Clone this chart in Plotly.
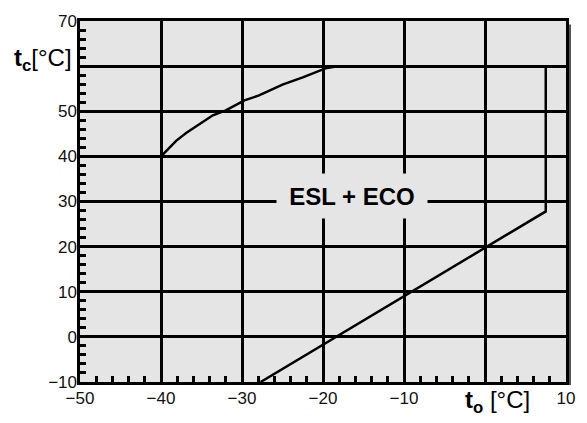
import plotly.graph_objects as go

# Boundary curve of the ESL + ECO envelope (t_o, t_c in °C)
env_to = [-40, -38.1, -36.9, -33.6, -32.0, -29.7, -27.9, -25.0, -22.5, -19.7, -18.0, 7.5, 7.5, -27.7]
env_tc = [40, 43.5, 45.2, 49.1, 50.2, 52.4, 53.5, 55.9, 57.5, 59.5, 60.0, 60.0, 27.8, -10.0]

x_range = [-50, 10]
y_range = [-10, 70]
x_labelled_ticks = [-50, -40, -30, -20, -10, 10]
y_labelled_ticks = [-10, 0, 10, 20, 30, 40, 50, 70]

label_text = "ESL + ECO"
label_pos = (-16.4, 31.3)

FONT = "Liberation Sans, Arial, sans-serif"
TICKFONT = dict(family=FONT, size=17, color="#111")

fig = go.Figure()
fig.add_trace(go.Scatter(x=env_to, y=env_tc, mode="lines",
                         line=dict(color="black", width=2.5), hoverinfo="skip",
                         showlegend=False))

grid_axis = dict(
    showgrid=True, gridcolor="black", gridwidth=2.5,
    zeroline=True, zerolinecolor="black", zerolinewidth=2.5,
    showline=True, linecolor="black", linewidth=3, mirror=True,
    ticks="", showticklabels=False, tickmode="linear", dtick=10,
    minor=dict(dtick=2, ticks="inside", ticklen=6, tickwidth=2.5,
               tickcolor="black", showgrid=False),
)
label_axis = dict(showgrid=False, zeroline=False, showline=False, ticks="",
                  tickfont=TICKFONT, tickmode="array")

fig.update_layout(
    xaxis=dict(range=x_range, **grid_axis),
    yaxis=dict(range=y_range, **grid_axis),
    xaxis2=dict(range=x_range, overlaying="x", side="bottom", anchor="y",
                tickvals=x_labelled_ticks, ticklabelstandoff=4, **label_axis),
    yaxis2=dict(range=y_range, overlaying="y", side="left", anchor="x",
                tickvals=y_labelled_ticks, ticklabelstandoff=2, **label_axis),
)
# invisible carrier trace so that the label axes are rendered
fig.add_trace(go.Scatter(x=[x_range[0]], y=[y_range[0]], xaxis="x2", yaxis="y2",
                         mode="markers", marker=dict(opacity=0), hoverinfo="skip",
                         showlegend=False))

fig.add_annotation(x=label_pos[0], y=label_pos[1], xref="x", yref="y",
                   text="<b>" + label_text + "</b>", showarrow=False,
                   font=dict(family=FONT, size=24, color="black"),
                   bgcolor="#e5e5e5", width=148, height=42)

fig.add_annotation(x=-0.139, y=0.893, xref="paper", yref="paper",
                   xanchor="left", yanchor="middle", showarrow=False,
                   text="<b>t</b><sub><b>c</b></sub>[°C]",
                   font=dict(family=FONT, size=24, color="black"))
fig.add_annotation(x=0.789, y=-0.055, xref="paper", yref="paper",
                   xanchor="left", yanchor="middle", showarrow=False,
                   text="<b>t</b><sub><b>o</b></sub> [°C]",
                   font=dict(family=FONT, size=24, color="black"))

# drop shadow at the right border
fig.add_shape(type="rect", xref="paper", yref="paper", xsizemode="pixel",
              xanchor=1, x0=2, x1=5, y0=-0.008, y1=0.99,
              fillcolor="#555", line=dict(width=0), layer="below")

fig.update_layout(
    width=587, height=423,
    margin=dict(l=80, r=19, t=16, b=41),
    plot_bgcolor="#e5e5e5", paper_bgcolor="white",
    font=dict(family=FONT),
)

fig.write_html("out.html")
